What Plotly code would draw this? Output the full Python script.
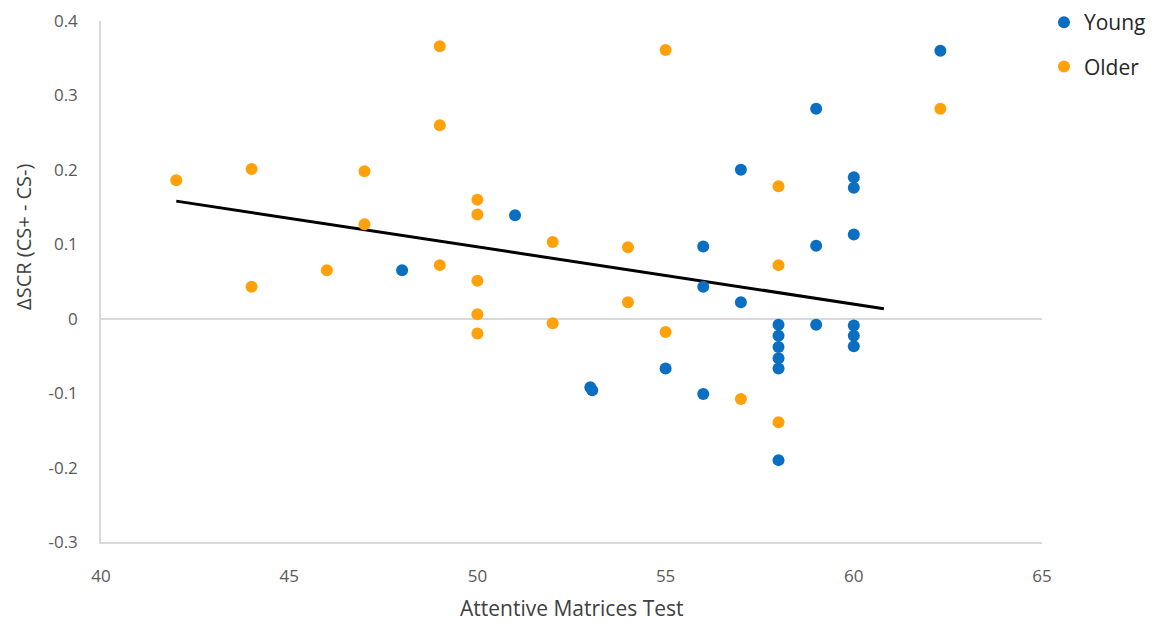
import plotly.graph_objects as go

young_x = [62.3, 59, 57, 60, 60, 60, 59, 51, 48, 56, 56, 57,
           58, 58, 58, 58, 58, 59, 60, 60, 60, 58, 53, 53.05, 55, 56]
young_y = [0.360, 0.282, 0.200, 0.190, 0.176, 0.113, 0.098, 0.139, 0.065, 0.097, 0.043, 0.022,
           -0.008, -0.023, -0.038, -0.053, -0.067, -0.008, -0.009, -0.023, -0.037, -0.190, -0.092, -0.096, -0.067, -0.101]

older_x = [42, 44, 44, 46, 47, 47, 49, 49, 49, 50, 50, 50, 50, 50,
           52, 52, 54, 54, 55, 55, 58, 58, 58, 57, 62.3]
older_y = [0.186, 0.201, 0.043, 0.065, 0.198, 0.127, 0.366, 0.260, 0.072, 0.160, 0.140, 0.051, 0.006, -0.020,
           0.103, -0.006, 0.096, 0.022, -0.018, 0.361, 0.178, 0.072, -0.139, -0.108, 0.282]

trend_x = [42, 60.8]
trend_y = [0.158, 0.0135]

x_ticks = [40, 45, 50, 55, 60, 65]
y_ticks = [-0.3, -0.2, -0.1, 0, 0.1, 0.2, 0.3, 0.4]
y_tick_labels = ["-0.3", "-0.2", "-0.1", "0", "0.1", "0.2", "0.3", "0.4"]

x_title = "Attentive Matrices Test"
y_title = "ΔSCR (CS+ - CS-)"

BLUE = "#0A6FC2"
ORANGE = "#FFA10A"
FONT = "Open Sans"

fig = go.Figure()
fig.add_trace(go.Scatter(x=trend_x, y=trend_y, mode="lines",
                         line=dict(color="black", width=3), showlegend=False,
                         hoverinfo="skip"))
fig.add_trace(go.Scatter(x=young_x, y=young_y, mode="markers", name="Young",
                         legendgroup="y",
                         marker=dict(color=BLUE, size=12)))
fig.add_trace(go.Scatter(x=older_x, y=older_y, mode="markers", name="Older",
                         legendgroup="o",
                         marker=dict(color=ORANGE, size=12)))

fig.update_layout(
    width=1150, height=615,
    margin=dict(l=93, r=116, t=13, b=81, autoexpand=False),
    paper_bgcolor="white", plot_bgcolor="white",
    font=dict(family=FONT, color="#595959", size=17),
    legend=dict(x=1.0021, y=1.0365, xanchor="left", yanchor="top",
                font=dict(size=21, color="#262626", family=FONT),
                tracegroupgap=14, bgcolor="rgba(0,0,0,0)"),
    showlegend=True,
    annotations=[
        dict(text=x_title, xref="paper", yref="paper", x=0.5, y=-0.1267,
             xanchor="center", yanchor="middle", showarrow=False,
             font=dict(size=21, color="#404040", family=FONT)),
        dict(text=y_title, xref="paper", yref="paper", x=-0.0830, y=0.5854,
             xanchor="center", yanchor="middle", showarrow=False, textangle=-90,
             font=dict(size=20, color="#404040", family=FONT)),
    ],
)
fig.update_xaxes(range=[40, 65], tickvals=x_ticks, ticktext=[str(v) for v in x_ticks],
                 showgrid=False, zeroline=False,
                 showline=True, linecolor="#D9D9D9", linewidth=1.5,
                 ticks="", ticklabelstandoff=18, ticklabeloverflow="allow",
                 tickfont=dict(size=17, color="#595959"))
fig.update_yaxes(range=[-0.3, 0.4], tickvals=y_ticks, ticktext=y_tick_labels,
                 showgrid=False, zeroline=True, zerolinecolor="#D9D9D9", zerolinewidth=1.5,
                 showline=True, linecolor="#D9D9D9", linewidth=1.5,
                 ticks="", ticklabelstandoff=18, ticklabeloverflow="allow",
                 tickfont=dict(size=17, color="#595959"))

fig.write_html("out.html")
